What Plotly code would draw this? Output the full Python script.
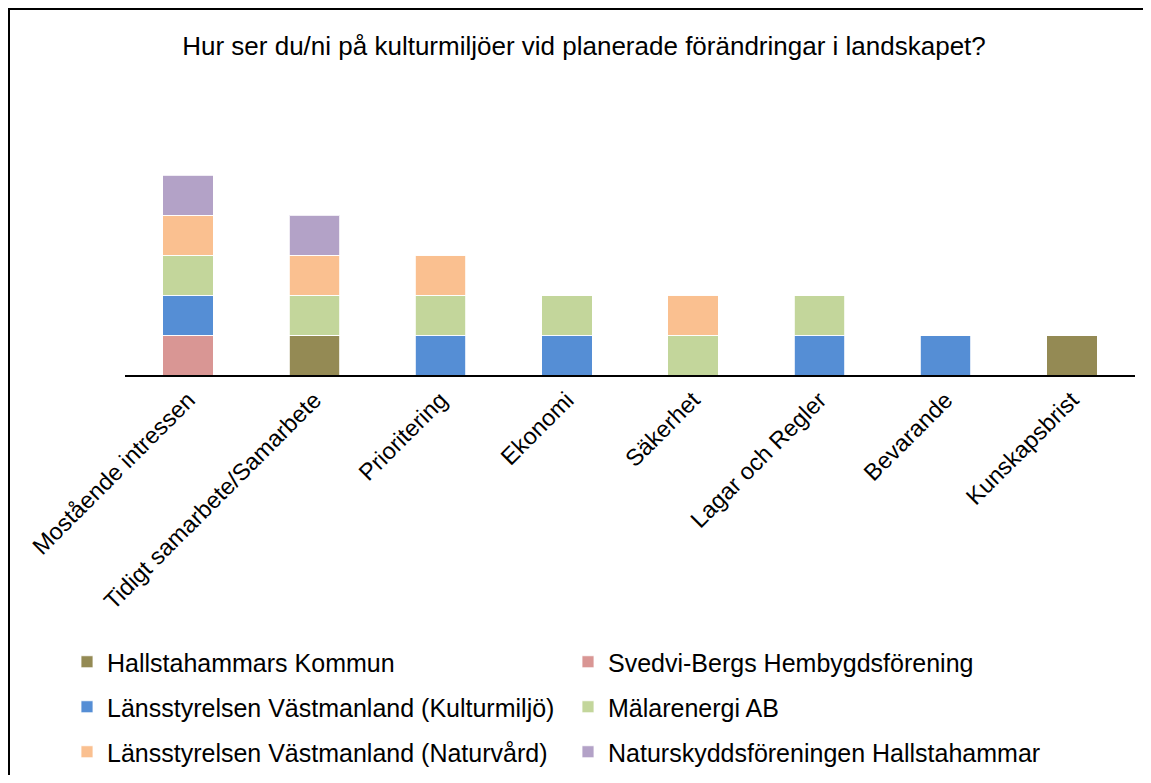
import plotly.graph_objects as go

categories = ["Mostående intressen", "Tidigt samarbete/Samarbete", "Prioritering", "Ekonomi",
              "Säkerhet", "Lagar och Regler", "Bevarande", "Kunskapsbrist"]

series_names = ["Hallstahammars Kommun", "Svedvi-Bergs Hembygdsförening",
                "Länsstyrelsen Västmanland (Kulturmiljö)", "Mälarenergi AB",
                "Länsstyrelsen Västmanland (Naturvård)", "Naturskyddsföreningen Hallstahammar"]

hallstahammar = [0, 1, 0, 0, 0, 0, 0, 1]
svedvi = [1, 0, 0, 0, 0, 0, 0, 0]
kulturmiljo = [1, 0, 1, 1, 0, 1, 1, 0]
malarenergi = [1, 1, 1, 1, 1, 1, 0, 0]
naturvard = [1, 1, 1, 0, 1, 0, 0, 0]
naturskydd = [1, 1, 0, 0, 0, 0, 0, 0]

series_values = [hallstahammar, svedvi, kulturmiljo, malarenergi, naturvard, naturskydd]
colors = ["#948A54", "#D99694", "#558ED5", "#C3D69B", "#FAC090", "#B3A2C7"]
legend_ids = ["legend", "legend", "legend2", "legend2", "legend3", "legend3"]

# page offset (browser body margin)
OFF = 8
W, H = 1151 - 2 * OFF, 783 - 2 * OFF
L, R = 125 - OFF, 1135 - OFF
TOP, BOT = 95 - OFF, 375 - OFF
pw, ph = R - L, BOT - TOP

def px(x):
    return (x - OFF - L) / pw

def py(y):
    return (BOT - (y - OFF)) / ph

FONT = "Liberation Sans, Arial, sans-serif"

fig = go.Figure()
for name, vals, col, lg in zip(series_names, series_values, colors, legend_ids):
    fig.add_trace(go.Bar(
        x=categories, y=vals, name=name, legend=lg,
        marker=dict(color=col, line=dict(color="rgba(255,255,255,0.8)", width=1)),
        width=0.4,
    ))

legend_common = dict(orientation="h", xanchor="left", yanchor="middle",
                     font=dict(family=FONT, size=25, color="#000000"),
                     entrywidthmode="pixels", entrywidth=456,
                     bgcolor="rgba(0,0,0,0)", traceorder="normal")

fig.update_layout(
    width=W, height=H,
    margin=dict(l=L, r=W - R, t=TOP, b=H - BOT, autoexpand=False),
    barmode="stack",
    plot_bgcolor="white", paper_bgcolor="white",
    font=dict(family=FONT, size=23.5, color="#000000"),
    title=dict(text="Hur ser du/ni på kulturmiljöer vid planerade förändringar i landskapet?",
               x=(584 - OFF) / W, xanchor="center", xref="container",
               y=1 - (46 - OFF) / H, yanchor="middle", yref="container",
               font=dict(family=FONT, size=26, color="#000000")),
    xaxis=dict(showline=True, linecolor="#000000", linewidth=2, ticks="",
               tickangle=-45, showgrid=False, zeroline=False, automargin=False,
               tickfont=dict(family=FONT, size=23.5, color="#000000")),
    yaxis=dict(range=[0, 7], visible=False, showgrid=False, zeroline=False),
    legend=dict(x=px(67), y=py(662), **legend_common),
    legend2=dict(x=px(67), y=py(707), **legend_common),
    legend3=dict(x=px(67), y=py(752), **legend_common),
    showlegend=True,
    shapes=[dict(type="rect", xref="paper", yref="paper",
                 x0=px(9), x1=px(1180), y0=py(9), y1=py(820),
                 line=dict(color="#000000", width=2), fillcolor="rgba(0,0,0,0)")],
)

fig.write_html("out.html")
